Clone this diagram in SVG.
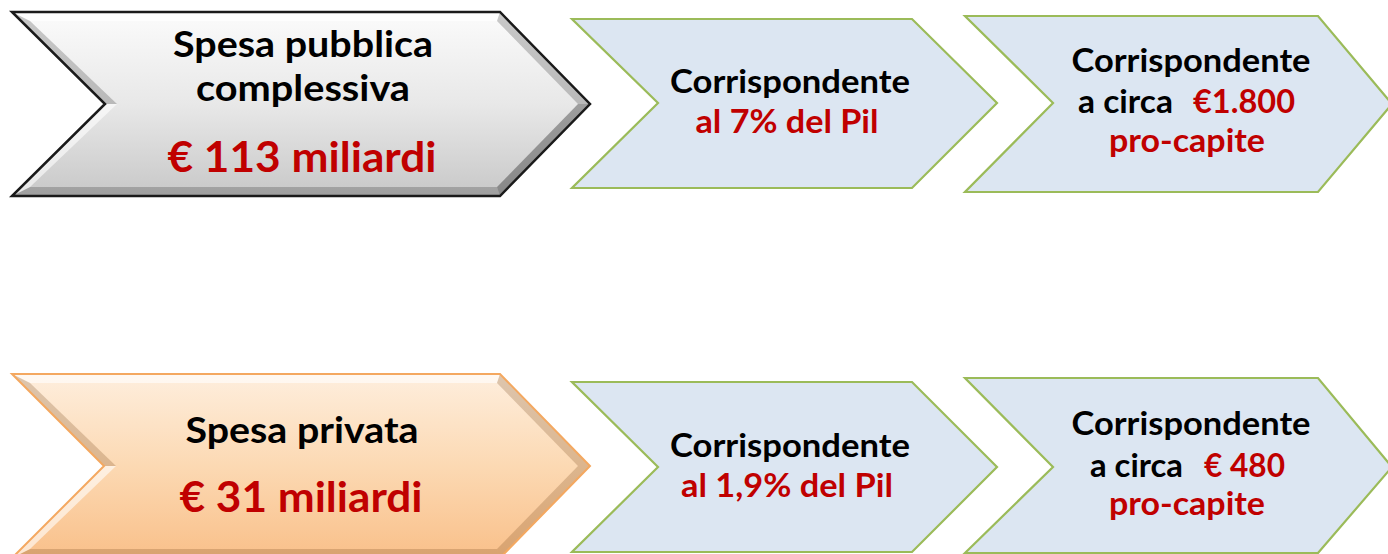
<svg xmlns="http://www.w3.org/2000/svg" width="1388" height="554" viewBox="0 0 1388 554">
<defs>
<linearGradient id="gGray" x1="0" y1="0" x2="0" y2="1">
<stop offset="0" stop-color="#fbfbfb"/>
<stop offset="0.5" stop-color="#e8e8e8"/>
<stop offset="1" stop-color="#c8c8c8"/>
</linearGradient>
<linearGradient id="gOrange" x1="0" y1="0" x2="0" y2="1">
<stop offset="0" stop-color="#feeedd"/>
<stop offset="0.5" stop-color="#fcd9b3"/>
<stop offset="1" stop-color="#f9c08a"/>
</linearGradient>
<style>
.blue{fill:#dce6f2;stroke:#9bbb59;stroke-width:2.2;stroke-linejoin:miter}
.t{font-family:Lato,"Open Sans","Liberation Sans",sans-serif;font-weight:bold;text-anchor:middle}
.s{text-anchor:start}
.k{fill:#000000}
.r{fill:#c00000}
.hl{fill:#ffffff;opacity:0.6}
.sh{fill:#000000;opacity:0.2}
.sh2{fill:#000000;opacity:0.32}
.oh{fill:#7a4a20;opacity:0.25}
</style>
</defs>
<rect width="1388" height="554" fill="#ffffff"/>

<g id="node-spesa-pubblica">
<polygon points="12,12 500,12 590,104 500,196 12,196 105,104" fill="url(#gGray)"/>
<polygon class="hl" points="12,12 500,12 497,21 30,21"/>
<polygon class="sh" points="500,12 590,104 578,104 497,21"/>
<polygon class="sh2" points="590,104 500,196 497,187 578,104"/>
<polygon class="sh" points="500,196 12,196 30,187 497,187"/>
<polygon class="hl" points="12,196 105,104 117,104 30,187"/>
<polygon class="sh" points="105,104 12,12 30,21 117,104"/>
<polygon points="12,12 500,12 590,104 500,196 12,196 105,104" fill="none" stroke="#1a1a1a" stroke-width="2.5"/>
<text class="t k" x="303" y="57" font-size="36" textLength="260" lengthAdjust="spacingAndGlyphs">Spesa pubblica</text>
<text class="t k" x="303" y="101" font-size="36" textLength="214" lengthAdjust="spacingAndGlyphs">complessiva</text>
<text class="t r" x="302" y="172" font-size="42" textLength="269" lengthAdjust="spacingAndGlyphs">€ 113 miliardi</text>
</g>

<g id="node-pil-pubblica">
<polygon class="blue" points="572,19 912,19 997,103 912,188 572,188 658,103"/>
<text class="t k" x="790" y="93" font-size="32" textLength="240" lengthAdjust="spacingAndGlyphs">Corrispondente</text>
<text class="t r" x="787" y="133" font-size="32" textLength="183" lengthAdjust="spacingAndGlyphs">al 7% del Pil</text>
</g>

<g id="node-procapite-pubblica">
<polygon class="blue" points="965,16 1318,16 1392,104 1318,192 965,192 1053,103"/>
<text class="t k" x="1191" y="72" font-size="32" textLength="239" lengthAdjust="spacingAndGlyphs">Corrispondente</text>
<text class="t s k" x="1078" y="113" font-size="32" textLength="95" lengthAdjust="spacingAndGlyphs">a circa</text>
<text class="t s r" x="1193" y="113" font-size="32" textLength="102" lengthAdjust="spacingAndGlyphs">€1.800</text>
<text class="t r" x="1187" y="152" font-size="32" textLength="156" lengthAdjust="spacingAndGlyphs">pro-capite</text>
</g>

<g id="node-spesa-privata">
<polygon points="12,374 500,374 590,466 500,558 12,558 104,466" fill="url(#gOrange)"/>
<polygon class="hl" points="12,374 500,374 497,383 30,383"/>
<polygon class="oh" points="500,374 590,466 578,466 497,383"/>
<polygon class="oh" points="590,466 500,558 497,549 578,466"/>
<polygon class="oh" points="500,558 12,558 30,549 497,549"/>
<polygon class="hl" points="12,558 104,466 116,466 30,549"/>
<polygon class="oh" points="104,466 12,374 30,383 116,466"/>
<polygon points="12,374 500,374 590,466 500,558 12,558 104,466" fill="none" stroke="#f4a860" stroke-width="2"/>
<text class="t k" x="302" y="443" font-size="36" textLength="233" lengthAdjust="spacingAndGlyphs">Spesa privata</text>
<text class="t r" x="301" y="512" font-size="42" textLength="243" lengthAdjust="spacingAndGlyphs">€ 31 miliardi</text>
</g>

<g id="node-pil-privata">
<polygon class="blue" points="572,382 912,382 997,467 912,552 572,552 658,467"/>
<text class="t k" x="790" y="457" font-size="32" textLength="240" lengthAdjust="spacingAndGlyphs">Corrispondente</text>
<text class="t r" x="787" y="497" font-size="32" textLength="212" lengthAdjust="spacingAndGlyphs">al 1,9% del Pil</text>
</g>

<g id="node-procapite-privata">
<polygon class="blue" points="965,378 1318,378 1392,467 1318,553 965,553 1053,467"/>
<text class="t k" x="1191" y="435" font-size="32" textLength="239" lengthAdjust="spacingAndGlyphs">Corrispondente</text>
<text class="t s k" x="1090" y="477" font-size="32" textLength="93" lengthAdjust="spacingAndGlyphs">a circa</text>
<text class="t s r" x="1204" y="477" font-size="32" textLength="81" lengthAdjust="spacingAndGlyphs">€ 480</text>
<text class="t r" x="1187" y="515" font-size="32" textLength="156" lengthAdjust="spacingAndGlyphs">pro-capite</text>
</g>

<g id="connectors"></g>
</svg>
